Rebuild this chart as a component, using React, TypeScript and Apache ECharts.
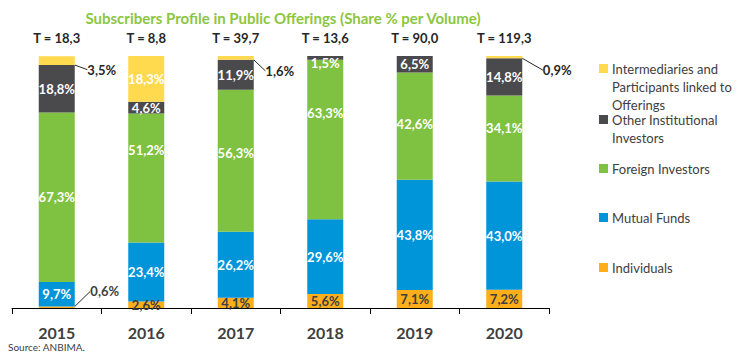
import React, { useEffect, useRef } from "react";
import * as echarts from "echarts";

const years = ["2015", "2016", "2017", "2018", "2019", "2020"];
const totals = ["18,3", "8,8", "39,7", "13,6", "90,0", "119,3"];
const individuals = [0.6, 2.6, 4.1, 5.6, 7.1, 7.2];
const mutualFunds = [9.7, 23.4, 26.2, 29.6, 43.8, 43.0];
const foreignInvestors = [67.3, 51.2, 56.3, 63.3, 42.6, 34.1];
const otherInstitutional = [18.8, 4.6, 11.9, 1.5, 6.5, 14.8];
const intermediaries = [3.5, 18.3, 1.6, 0.3, 0.3, 0.9];

const seriesNames = [
  "Individuals",
  "Mutual Funds",
  "Foreign Investors",
  "Other Institutional Investors",
  "Intermediaries and Participants linked to Offerings",
];
const legendLabels = [
  "Individuals",
  "Mutual Funds",
  "Foreign Investors",
  "Other Institutional\nInvestors",
  "Intermediaries and\nParticipants linked to\nOfferings",
];
const colors = ["#FDAE1B", "#0095D9", "#7FC241", "#4A4A4C", "#FFDA4E"];

// label styling tweaks (not data)
const foreignLabelShift = [0, -28, -8, -27, -2, -11];
const otherLabelShift = [0, 0, 0, 5, 0, 0];
const hiddenIntermLabels = [3, 4];
const outsideIndividuals: Record<number, [number, number]> = { 0: [48, -16] };
const outsideInterm: Record<number, [number, number]> = {
  0: [45, 9],
  2: [44, 13],
  5: [53, 13],
};

const FONT = "Lato, 'Open Sans', sans-serif";
const fmt = (v: number) => v.toFixed(1).replace(".", ",") + "%";

export default function App() {
  const ref = useRef<HTMLDivElement>(null);
  useEffect(() => {
    if (!ref.current) return;
    const chart = echarts.init(ref.current, undefined, { renderer: "svg" });

    const baseLabel = {
      show: true,
      position: "inside",
      fontFamily: FONT,
      fontWeight: "bold",
      fontSize: 13,
      color: "#FFFFFF",
      formatter: (p: any) => fmt(p.value),
    };

    const mkLayout = (map: Record<number, [number, number]>) => (p: any) => {
      const s = map[p.dataIndex];
      if (!s) return {};
      return { dx: s[0], dy: s[1] };
    };

    const series: any[] = [
      {
        name: seriesNames[0],
        type: "bar",
        stack: "t",
        barWidth: 36,
        data: individuals,
        itemStyle: { color: colors[0] },
        label: { ...baseLabel, color: "#404040" },
        labelLayout: mkLayout(outsideIndividuals),
        labelLine: { show: true, lineStyle: { color: "#262626", width: 1 } },
      },
      {
        name: seriesNames[1],
        type: "bar",
        stack: "t",
        barWidth: 36,
        data: mutualFunds,
        itemStyle: { color: colors[1] },
        label: baseLabel,
      },
      {
        name: seriesNames[2],
        type: "bar",
        stack: "t",
        barWidth: 36,
        data: foreignInvestors.map((v, i) => ({
          value: v,
          label: { offset: [0, foreignLabelShift[i]] },
        })),
        itemStyle: { color: colors[2] },
        label: baseLabel,
      },
      {
        name: seriesNames[3],
        type: "bar",
        stack: "t",
        barWidth: 36,
        data: otherInstitutional.map((v, i) => ({
          value: v,
          label: { offset: [0, otherLabelShift[i]] },
        })),
        itemStyle: { color: colors[3] },
        label: baseLabel,
      },
      {
        name: seriesNames[4],
        type: "bar",
        stack: "t",
        barWidth: 36,
        data: intermediaries.map((v, i) => ({
          value: v,
          label: hiddenIntermLabels.includes(i)
            ? { show: false }
            : outsideInterm[i]
            ? { color: "#262626" }
            : {},
        })),
        itemStyle: { color: colors[4] },
        label: baseLabel,
        labelLayout: mkLayout(outsideInterm),
        labelLine: { show: true, lineStyle: { color: "#262626", width: 1 } },
      },
    ];

    // legend drawn as graphic items
    const legendTops = [268, 218, 169, 120, 69];
    const legendGraphics: any[] = [];
    for (let i = 0; i < 5; i++) {
      legendGraphics.push({
        type: "rect",
        left: 599,
        top: legendTops[i] - 5,
        shape: { width: 9, height: 9 },
        style: { fill: colors[i] },
      });
      legendGraphics.push({
        type: "text",
        left: 612,
        top: legendTops[i] - 9,
        style: {
          text: legendLabels[i],
          fill: "#404040",
          font: `13px ${FONT}`,
          lineHeight: 18,
        },
      });
    }

    chart.setOption({
      animation: false,
      title: {
        text: "Subscribers Profile in Public Offerings (Share % per Volume)",
        left: 278,
        top: 5,
        textAlign: "center",
        textStyle: {
          color: "#8CC63F",
          fontFamily: FONT,
          fontWeight: "bold",
          fontSize: 15,
        },
      },
      grid: { left: 12, right: 201, top: 56, bottom: 47, containLabel: false },
      xAxis: [
        {
          type: "category",
          data: years,
          position: "bottom",
          axisLine: { lineStyle: { color: "#000000", width: 1 } },
          axisTick: { show: true, length: 6, lineStyle: { color: "#000000" } },
          axisLabel: {
            fontFamily: FONT,
            fontWeight: "bold",
            fontSize: 16,
            color: "#404040",
            margin: 16,
          },
        },
        {
          type: "category",
          data: totals,
          position: "top",
          axisLine: { show: false },
          axisTick: { show: false },
          axisLabel: {
            fontFamily: FONT,
            fontWeight: "bold",
            fontSize: 13,
            color: "#262626",
            margin: 12,
            formatter: (v: string) => `T = ${v}`,
          },
        },
      ],
      yAxis: { type: "value", min: 0, max: 100, show: false },
      series,
      graphic: [
        ...legendGraphics,
        {
          type: "text",
          left: 8,
          top: 342,
          style: { text: "Source: ANBIMA.", fill: "#404040", font: `10px ${FONT}` },
        },
      ],
    });
    return () => chart.dispose();
  }, []);
  return (
    <div
      ref={ref}
      style={{ position: "absolute", left: 0, top: 0, width: 750, height: 355 }}
    />
  );
}
